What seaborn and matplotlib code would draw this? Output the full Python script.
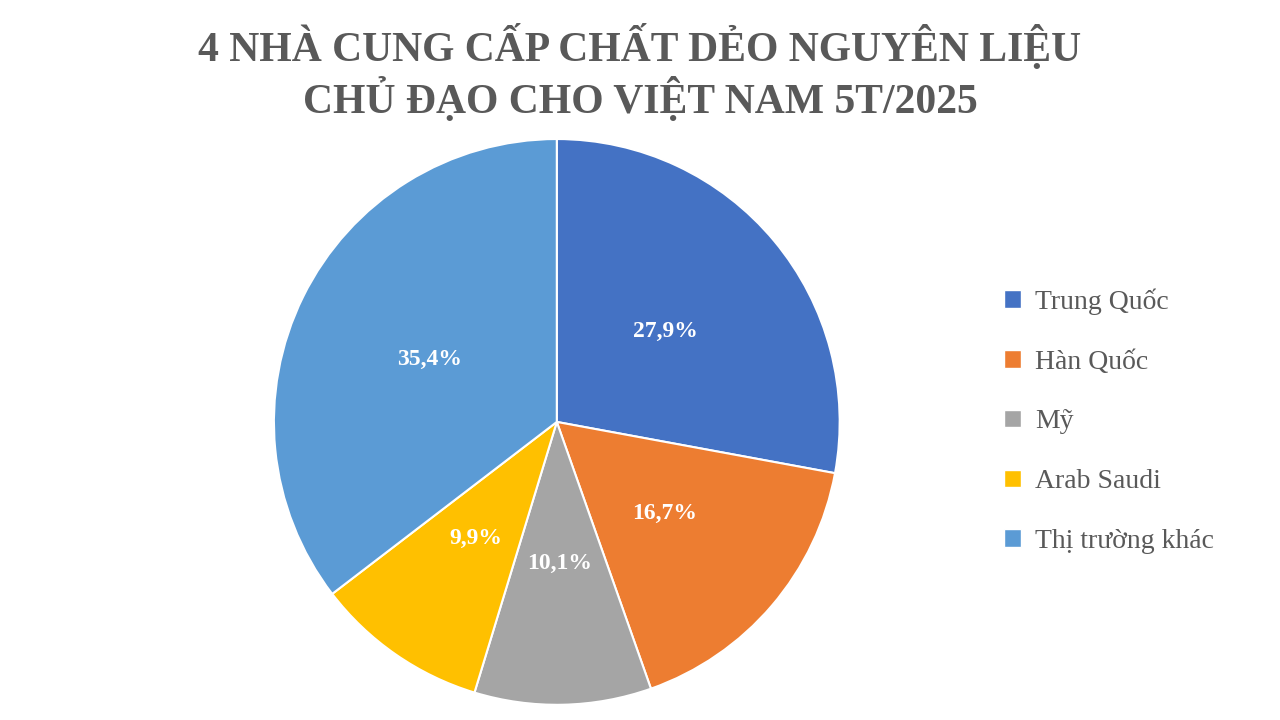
import matplotlib
matplotlib.use("Agg")
import matplotlib.pyplot as plt
import seaborn as sns
from matplotlib.patches import Patch

sns.set_style("white")
plt.rcParams['font.family'] = ['Liberation Serif', 'DejaVu Serif']

categories = ["Trung Quốc", "Hàn Quốc", "Mỹ", "Arab Saudi", "Thị trường khác"]
values = [27.9, 16.7, 10.1, 9.9, 35.4]
colors = ["#4472C4", "#ED7D31", "#A5A5A5", "#FFC000", "#5B9BD5"]
title = "4 NHÀ CUNG CẤP CHẤT DẺO NGUYÊN LIỆU\nCHỦ ĐẠO CHO VIỆT NAM 5T/2025"

fig = plt.figure(figsize=(12.8, 7.2), dpi=100)
ax = fig.add_axes([0.214, 0.021, 0.442, 0.786])
wedges, texts, autotexts = ax.pie(
    values, colors=colors, startangle=90, counterclock=False,
    autopct=lambda p: f"{p:.1f}%".replace(".", ","), pctdistance=0.5,
    wedgeprops=dict(edgecolor="white", linewidth=1.5),
    textprops=dict(color="white", fontsize=17, fontweight="bold"))
ax.set_xlim(-1, 1)
ax.set_ylim(-1, 1)
ax.set_aspect("equal")

fig.text(0.5, 0.83, title, ha="center", va="bottom", fontsize=30,
         fontweight="bold", color="#595959", linespacing=1.2)

handles = [Patch(facecolor=c) for c in colors]
fig.legend(handles, categories, loc="center left", bbox_to_anchor=(0.765, 0.415),
           frameon=False, fontsize=20, labelcolor="#595959",
           handlelength=0.6, handleheight=0.6, handletextpad=0.5, labelspacing=1.25)

fig.savefig("out.png", dpi=100)
